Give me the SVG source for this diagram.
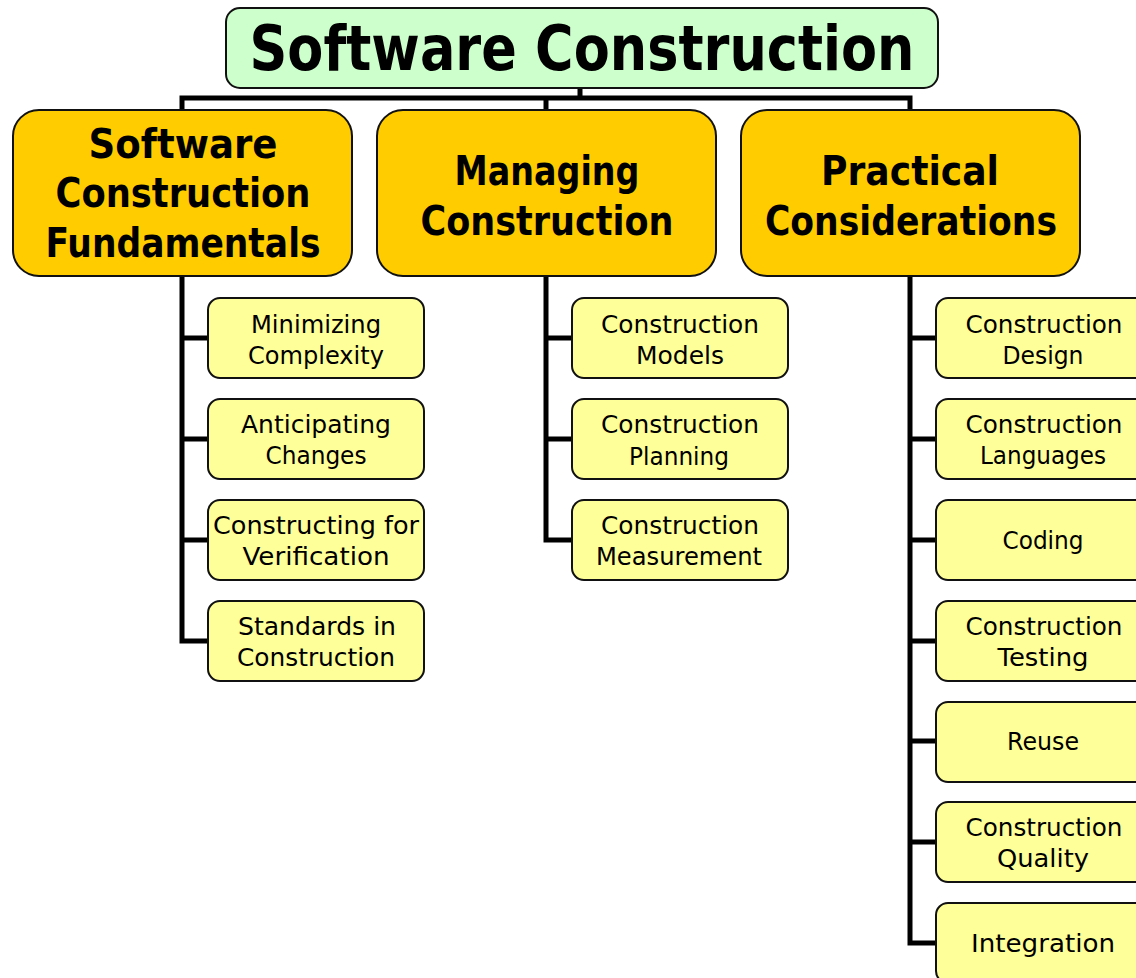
<svg xmlns="http://www.w3.org/2000/svg" width="1136" height="978" viewBox="0 0 1136 978">
<style>
.title{fill:#CCFFCC;stroke:#111;stroke-width:2}
.l1{fill:#FFCC00;stroke:#111;stroke-width:2}
.l2{fill:#FFFF99;stroke:#111;stroke-width:2}
.t0{font-family:"DejaVu Sans",sans-serif;font-weight:bold;font-size:62px;fill:#000;text-anchor:middle}
.t1{font-family:"DejaVu Sans",sans-serif;font-weight:bold;font-size:40px;fill:#000;text-anchor:middle}
.t2{font-family:"DejaVu Sans",sans-serif;font-size:24px;fill:#000;text-anchor:middle}
.con{fill:none;stroke:#000;stroke-width:5;stroke-linejoin:miter;stroke-linecap:butt}
</style>
<rect width="1136" height="978" fill="#fff"/>
<g id="connectors">
<path class="con" d="M580 88 V98 M182 112 V98 H910 V112 M546 98 V112"/>
<path class="con" d="M182 276 V641 H210 M182 338 H210 M182 439 H210 M182 540 H210"/>
<path class="con" d="M546 276 V540 H574 M546 338 H574 M546 439 H574"/>
<path class="con" d="M910 276 V943 H938 M910 338 H938 M910 439 H938 M910 540 H938 M910 641 H938 M910 741 H938 M910 842 H938"/>
</g>
<g id="n-root"><rect class="title" x="226" y="8" width="712" height="80" rx="14"/><text class="t0" x="582" y="70" textLength="665" lengthAdjust="spacingAndGlyphs">Software Construction</text></g>
<g id="n-fund"><rect class="l1" x="13" y="110" width="339" height="166" rx="26"/>
<text class="t1" x="183" y="158" textLength="189" lengthAdjust="spacingAndGlyphs">Software</text>
<text class="t1" x="183" y="207" textLength="255" lengthAdjust="spacingAndGlyphs">Construction</text>
<text class="t1" x="183" y="257" textLength="275" lengthAdjust="spacingAndGlyphs">Fundamentals</text></g>
<g id="n-manage"><rect class="l1" x="377" y="110" width="339" height="166" rx="26"/>
<text class="t1" x="547" y="185" textLength="185" lengthAdjust="spacingAndGlyphs">Managing</text>
<text class="t1" x="547" y="235" textLength="253" lengthAdjust="spacingAndGlyphs">Construction</text></g>
<g id="n-practical"><rect class="l1" x="741" y="110" width="339" height="166" rx="26"/>
<text class="t1" x="910" y="185" textLength="178" lengthAdjust="spacingAndGlyphs">Practical</text>
<text class="t1" x="911" y="235" textLength="292" lengthAdjust="spacingAndGlyphs">Considerations</text></g>

<g id="n-min"><rect class="l2" x="208" y="298" width="216" height="80" rx="12"/><text class="t2" x="316" y="333" textLength="130" lengthAdjust="spacingAndGlyphs">Minimizing</text><text class="t2" x="316" y="364" textLength="136" lengthAdjust="spacingAndGlyphs">Complexity</text></g>
<g id="n-antic"><rect class="l2" x="208" y="399" width="216" height="80" rx="12"/><text class="t2" x="316" y="433" textLength="150" lengthAdjust="spacingAndGlyphs">Anticipating</text><text class="t2" x="316" y="464" textLength="101" lengthAdjust="spacingAndGlyphs">Changes</text></g>
<g id="n-verif"><rect class="l2" x="208" y="500" width="216" height="80" rx="12"/><text class="t2" x="316" y="534" textLength="206" lengthAdjust="spacingAndGlyphs">Constructing for</text><text class="t2" x="316" y="565" textLength="147" lengthAdjust="spacingAndGlyphs">Verification</text></g>
<g id="n-std"><rect class="l2" x="208" y="601" width="216" height="80" rx="12"/><text class="t2" x="317" y="635" textLength="158" lengthAdjust="spacingAndGlyphs">Standards in</text><text class="t2" x="316" y="666" textLength="158" lengthAdjust="spacingAndGlyphs">Construction</text></g>

<g id="n-models"><rect class="l2" x="572" y="298" width="216" height="80" rx="12"/><text class="t2" x="680" y="333" textLength="158" lengthAdjust="spacingAndGlyphs">Construction</text><text class="t2" x="680" y="364" textLength="88" lengthAdjust="spacingAndGlyphs">Models</text></g>
<g id="n-plan"><rect class="l2" x="572" y="399" width="216" height="80" rx="12"/><text class="t2" x="680" y="433" textLength="158" lengthAdjust="spacingAndGlyphs">Construction</text><text class="t2" x="679" y="465" textLength="100" lengthAdjust="spacingAndGlyphs">Planning</text></g>
<g id="n-meas"><rect class="l2" x="572" y="500" width="216" height="80" rx="12"/><text class="t2" x="680" y="534" textLength="158" lengthAdjust="spacingAndGlyphs">Construction</text><text class="t2" x="679" y="565" textLength="166" lengthAdjust="spacingAndGlyphs">Measurement</text></g>

<g id="n-design"><rect class="l2" x="936" y="298" width="216" height="80" rx="12"/><text class="t2" x="1044" y="333" textLength="157" lengthAdjust="spacingAndGlyphs">Construction</text><text class="t2" x="1043" y="364" textLength="81" lengthAdjust="spacingAndGlyphs">Design</text></g>
<g id="n-lang"><rect class="l2" x="936" y="399" width="216" height="80" rx="12"/><text class="t2" x="1044" y="433" textLength="157" lengthAdjust="spacingAndGlyphs">Construction</text><text class="t2" x="1043" y="464" textLength="126" lengthAdjust="spacingAndGlyphs">Languages</text></g>
<g id="n-coding"><rect class="l2" x="936" y="500" width="216" height="80" rx="12"/><text class="t2" x="1043" y="549" textLength="81" lengthAdjust="spacingAndGlyphs">Coding</text></g>
<g id="n-test"><rect class="l2" x="936" y="601" width="216" height="80" rx="12"/><text class="t2" x="1044" y="635" textLength="157" lengthAdjust="spacingAndGlyphs">Construction</text><text class="t2" x="1043" y="666" textLength="91" lengthAdjust="spacingAndGlyphs">Testing</text></g>
<g id="n-reuse"><rect class="l2" x="936" y="702" width="216" height="80" rx="12"/><text class="t2" x="1043" y="750" textLength="72" lengthAdjust="spacingAndGlyphs">Reuse</text></g>
<g id="n-quality"><rect class="l2" x="936" y="802" width="216" height="80" rx="12"/><text class="t2" x="1044" y="836" textLength="157" lengthAdjust="spacingAndGlyphs">Construction</text><text class="t2" x="1043" y="867" textLength="92" lengthAdjust="spacingAndGlyphs">Quality</text></g>
<g id="n-integ"><rect class="l2" x="936" y="903" width="216" height="80" rx="12"/><text class="t2" x="1043" y="952" textLength="144" lengthAdjust="spacingAndGlyphs">Integration</text></g>
</svg>
